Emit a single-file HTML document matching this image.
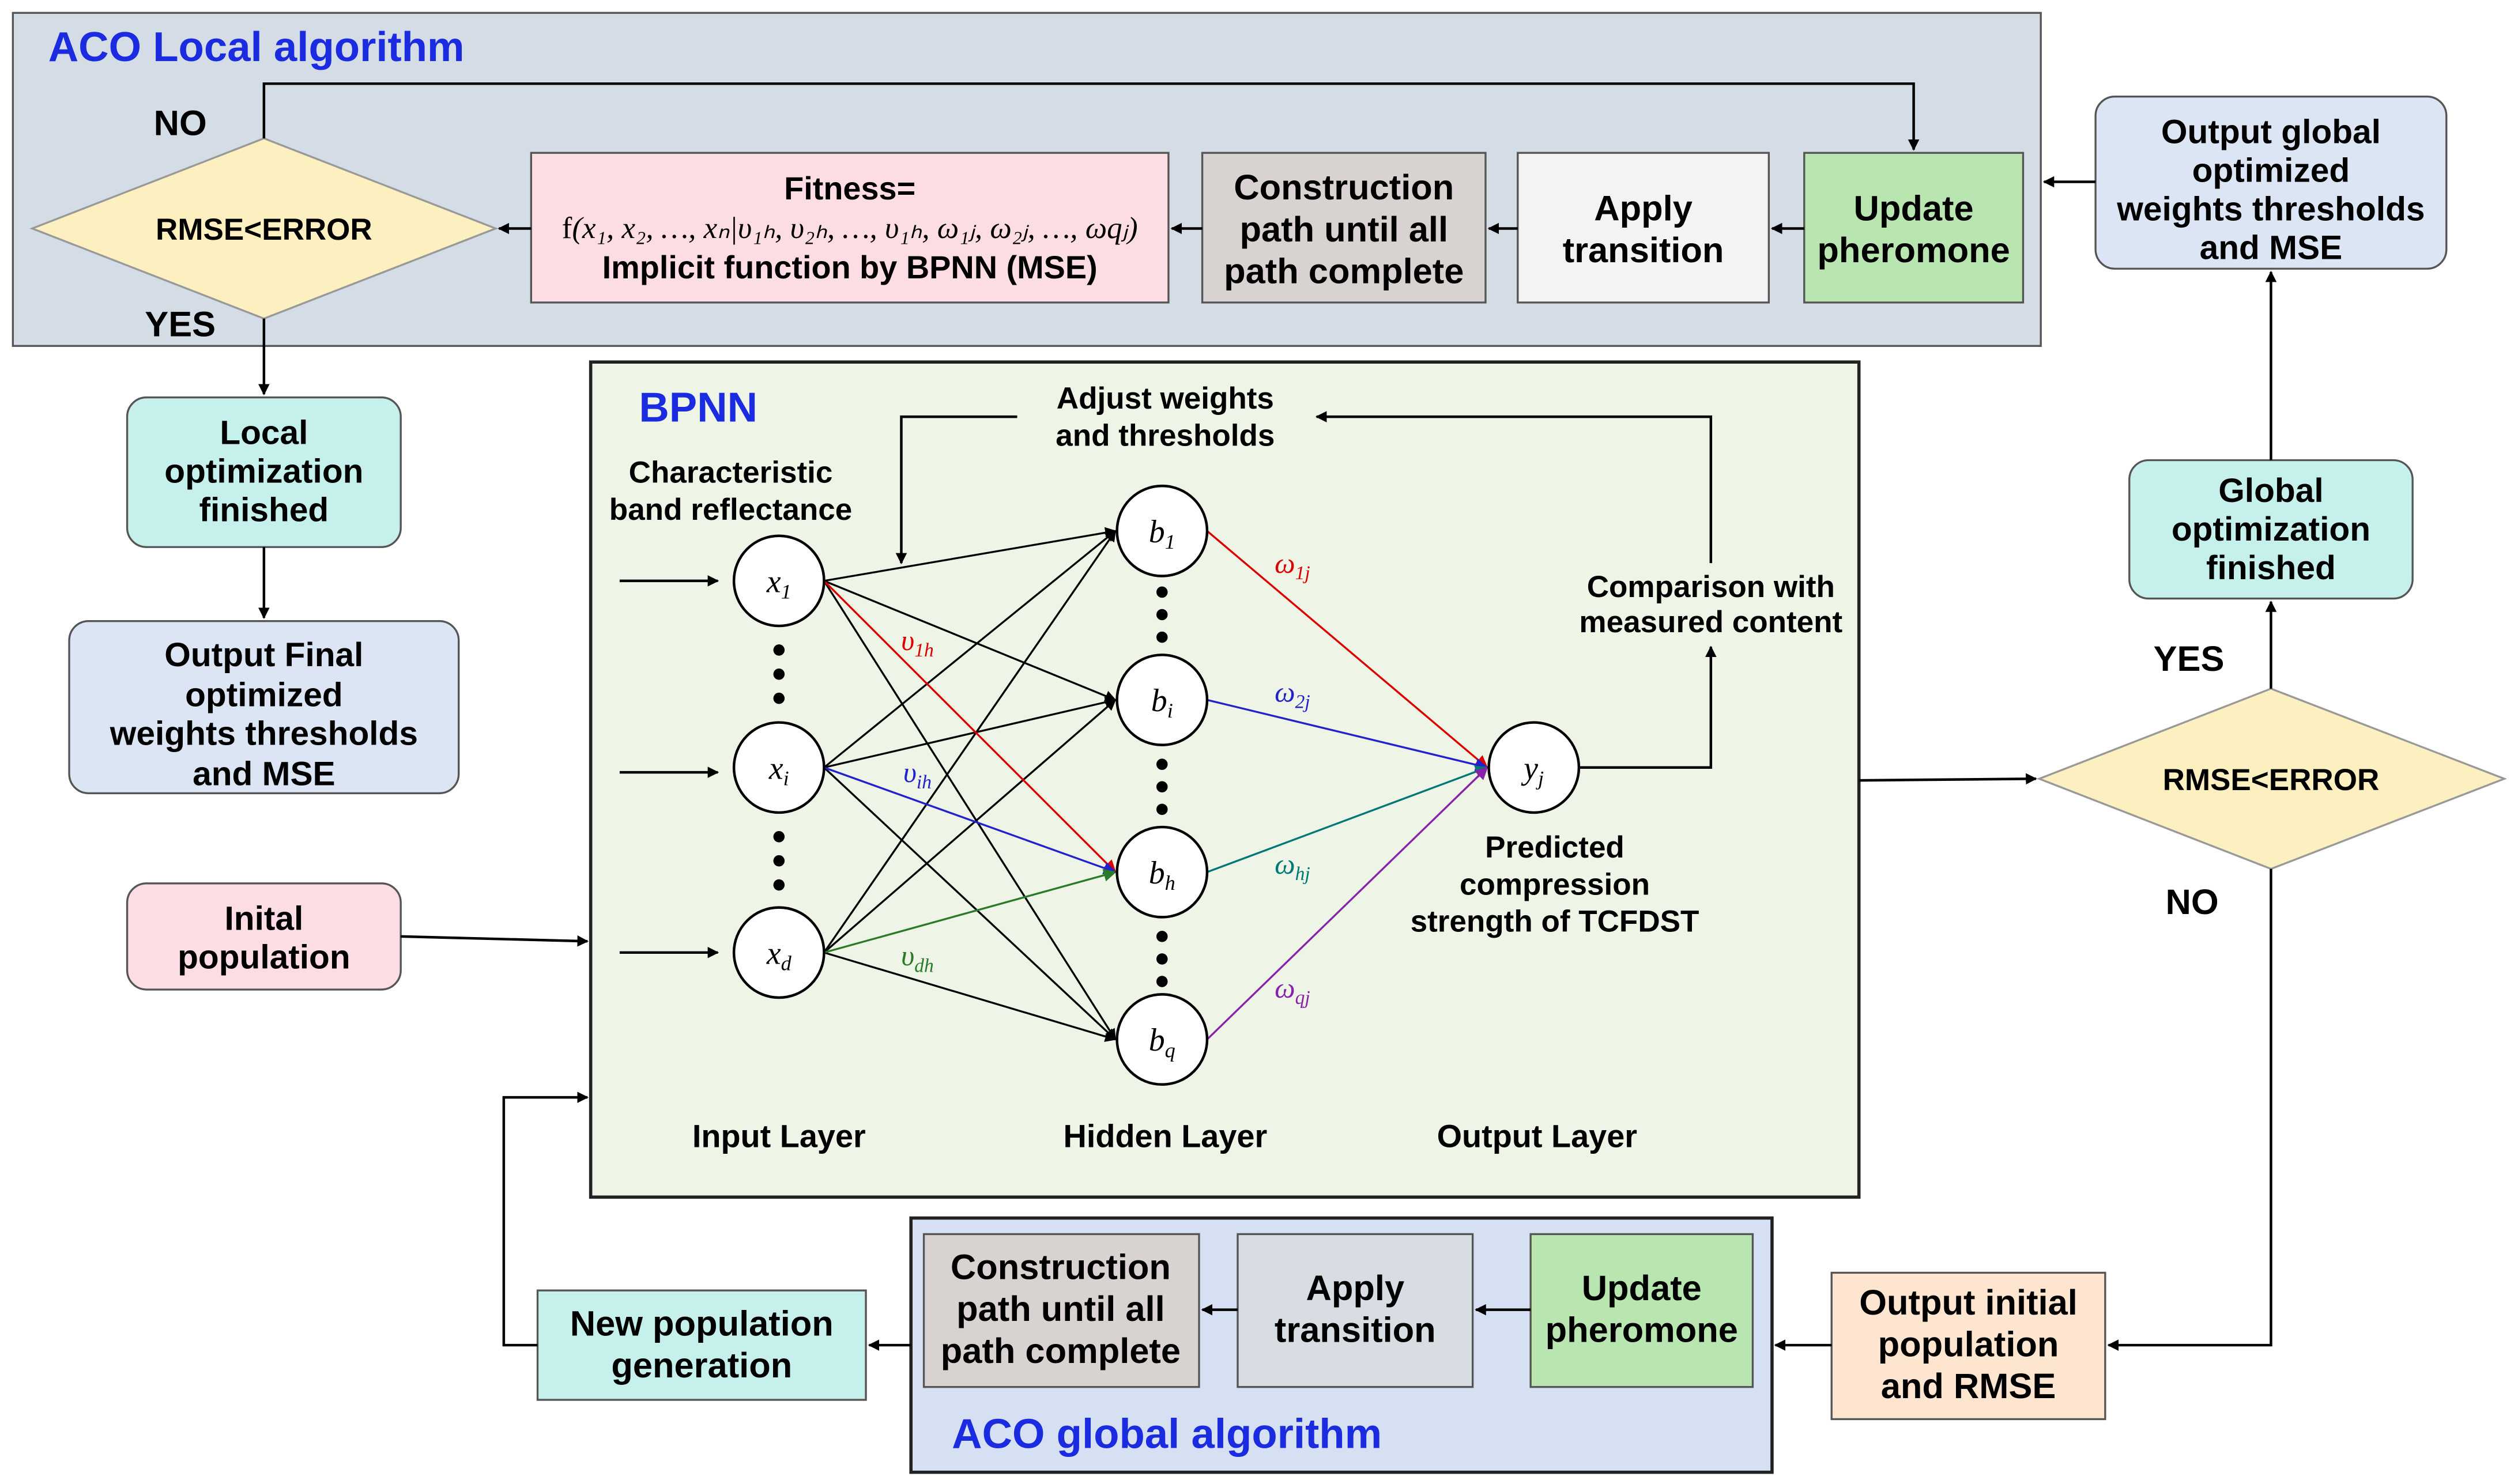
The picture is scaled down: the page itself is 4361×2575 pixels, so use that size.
<!DOCTYPE html>
<html><head><meta charset="utf-8"><style>html,body{margin:0;padding:0;background:#fff}svg{display:block}</style></head><body>
<svg width="4361" height="2575" viewBox="0 0 1562 922.3" preserveAspectRatio="none" xmlns="http://www.w3.org/2000/svg" font-family="Liberation Sans, sans-serif">
<defs>
<marker id="a" viewBox="0 0 10 10" refX="9" refY="5" markerWidth="7" markerHeight="7" orient="auto-start-reverse" markerUnits="userSpaceOnUse"><path d="M0,0L10,5L0,10z" fill="#000"/></marker>
<marker id="ar" viewBox="0 0 10 10" refX="9" refY="5" markerWidth="8" markerHeight="8" orient="auto" markerUnits="userSpaceOnUse"><path d="M0,0L10,5L0,10z" fill="#d00"/></marker>
<marker id="ab" viewBox="0 0 10 10" refX="9" refY="5" markerWidth="8" markerHeight="8" orient="auto" markerUnits="userSpaceOnUse"><path d="M0,0L10,5L0,10z" fill="#22c"/></marker>
<marker id="ag" viewBox="0 0 10 10" refX="9" refY="5" markerWidth="8" markerHeight="8" orient="auto" markerUnits="userSpaceOnUse"><path d="M0,0L10,5L0,10z" fill="#2a7a2a"/></marker>
<marker id="at" viewBox="0 0 10 10" refX="9" refY="5" markerWidth="8" markerHeight="8" orient="auto" markerUnits="userSpaceOnUse"><path d="M0,0L10,5L0,10z" fill="#077"/></marker>
<marker id="ap" viewBox="0 0 10 10" refX="9" refY="5" markerWidth="8" markerHeight="8" orient="auto" markerUnits="userSpaceOnUse"><path d="M0,0L10,5L0,10z" fill="#82a"/></marker>
</defs>
<g stroke="#555" stroke-width="1.2">
<rect x="8" y="8" width="1260" height="207" fill="#d4dce5"/>
<rect x="367" y="225" width="788" height="519" fill="#eef5e6" stroke="#222" stroke-width="2"/>
<rect x="566" y="757" width="535" height="158" fill="#d5e1f2" stroke="#222" stroke-width="2"/>
<polygon points="20,142 164,86 308,142 164,198" fill="#fdf0c0" stroke="#999"/>
<polygon points="1267,484 1411,428 1556,484 1411,540" fill="#fdf0c0" stroke="#999"/>
<rect x="330" y="95" width="396" height="93" fill="#fddde4"/>
<rect x="747" y="95" width="176" height="93" fill="#d8d3d1"/>
<rect x="943" y="95" width="156" height="93" fill="#f3f3f3"/>
<rect x="1121" y="95" width="136" height="93" fill="#b9e6b0"/>
<rect x="1302" y="60" width="218" height="107" rx="12" fill="#dbe5f4"/>
<rect x="1323" y="286" width="176" height="86" rx="12" fill="#c6f0ec"/>
<rect x="79" y="247" width="170" height="93" rx="12" fill="#c6f0ec"/>
<rect x="43" y="386" width="242" height="107" rx="12" fill="#dbe5f4"/>
<rect x="79" y="549" width="170" height="66" rx="12" fill="#fddde4"/>
<rect x="1138" y="791" width="170" height="91" fill="#fde5d0"/>
<rect x="574" y="767" width="171" height="95" fill="#d8d3d1"/>
<rect x="769" y="767" width="146" height="95" fill="#d8dde4"/>
<rect x="951" y="767" width="138" height="95" fill="#b9e6b0"/>
<rect x="334" y="802" width="204" height="68" fill="#c6f0ec"/>
</g>
<g stroke="#000" stroke-width="1.6" fill="none">
<polyline points="164,86 164,52 1189,52 1189,93" marker-end="url(#a)"/>
<line x1="330" y1="142" x2="310" y2="142" marker-end="url(#a)"/>
<line x1="747" y1="142" x2="728" y2="142" marker-end="url(#a)"/>
<line x1="943" y1="142" x2="925" y2="142" marker-end="url(#a)"/>
<line x1="1121" y1="142" x2="1101" y2="142" marker-end="url(#a)"/>
<line x1="1302" y1="113" x2="1270" y2="113" marker-end="url(#a)"/>
<line x1="164" y1="198" x2="164" y2="245" marker-end="url(#a)"/>
<line x1="164" y1="340" x2="164" y2="384" marker-end="url(#a)"/>
<line x1="249" y1="582" x2="365" y2="585" marker-end="url(#a)"/>
<line x1="1155" y1="485" x2="1265" y2="484" marker-end="url(#a)"/>
<line x1="1411" y1="428" x2="1411" y2="374" marker-end="url(#a)"/>
<line x1="1411" y1="286" x2="1411" y2="169" marker-end="url(#a)"/>
<polyline points="1411,540 1411,836 1310,836" marker-end="url(#a)"/>
<line x1="1138" y1="836" x2="1103" y2="836" marker-end="url(#a)"/>
<line x1="951" y1="814" x2="917" y2="814" marker-end="url(#a)"/>
<line x1="769" y1="814" x2="747" y2="814" marker-end="url(#a)"/>
<line x1="566" y1="836" x2="540" y2="836" marker-end="url(#a)"/>
<polyline points="334,836 313,836 313,682 365,682" marker-end="url(#a)"/>
<line x1="385" y1="361" x2="446" y2="361" marker-end="url(#a)"/>
<line x1="385" y1="480" x2="446" y2="480" marker-end="url(#a)"/>
<line x1="385" y1="592" x2="446" y2="592" marker-end="url(#a)"/>
<polyline points="632,259 560,259 560,350" marker-end="url(#a)"/>
<polyline points="1063,350 1063,259 818,259" marker-end="url(#a)"/>
<polyline points="981,477 1063,477 1063,402" marker-end="url(#a)"/>
</g>
<g stroke="#000" stroke-width="1.2" fill="none">
<line x1="512" y1="361" x2="693" y2="330" marker-end="url(#a)"/><line x1="512" y1="361" x2="693" y2="435" marker-end="url(#a)"/><line x1="512" y1="361" x2="693" y2="646" marker-end="url(#a)"/>
<line x1="512" y1="477" x2="693" y2="330" marker-end="url(#a)"/><line x1="512" y1="477" x2="693" y2="435" marker-end="url(#a)"/><line x1="512" y1="477" x2="693" y2="646" marker-end="url(#a)"/>
<line x1="512" y1="592" x2="693" y2="330" marker-end="url(#a)"/><line x1="512" y1="592" x2="693" y2="435" marker-end="url(#a)"/><line x1="512" y1="592" x2="693" y2="646" marker-end="url(#a)"/>
<line x1="512" y1="361" x2="693" y2="542" stroke="#d00" marker-end="url(#ar)"/>
<line x1="512" y1="477" x2="693" y2="542" stroke="#22c" marker-end="url(#ab)"/>
<line x1="512" y1="592" x2="693" y2="542" stroke="#2a7a2a" marker-end="url(#ag)"/>
<line x1="750" y1="330" x2="924" y2="477" stroke="#d00" marker-end="url(#ar)"/>
<line x1="750" y1="435" x2="924" y2="477" stroke="#22c" marker-end="url(#ab)"/>
<line x1="750" y1="542" x2="924" y2="477" stroke="#077" marker-end="url(#at)"/>
<line x1="750" y1="646" x2="924" y2="477" stroke="#82a" marker-end="url(#ap)"/>
</g>
<g fill="#fff" stroke="#000" stroke-width="1.6">
<circle cx="484" cy="361" r="28"/><circle cx="484" cy="477" r="28"/><circle cx="484" cy="592" r="28"/>
<circle cx="722" cy="330" r="28"/><circle cx="722" cy="435" r="28"/><circle cx="722" cy="542" r="28"/><circle cx="722" cy="646" r="28"/>
<circle cx="953" cy="477" r="28"/>
</g>
<g fill="#000">
<circle cx="484" cy="404" r="3.5"/><circle cx="484" cy="419" r="3.5"/><circle cx="484" cy="434" r="3.5"/>
<circle cx="484" cy="520" r="3.5"/><circle cx="484" cy="535" r="3.5"/><circle cx="484" cy="550" r="3.5"/>
<circle cx="722" cy="368" r="3.5"/><circle cx="722" cy="382" r="3.5"/><circle cx="722" cy="396" r="3.5"/>
<circle cx="722" cy="475" r="3.5"/><circle cx="722" cy="489" r="3.5"/><circle cx="722" cy="503" r="3.5"/>
<circle cx="722" cy="582" r="3.5"/><circle cx="722" cy="596" r="3.5"/><circle cx="722" cy="610" r="3.5"/>
</g>
<g font-family="Liberation Serif, serif" font-style="italic" font-size="20" text-anchor="middle">
<text x="484" y="368">x<tspan font-size="13" dy="4">1</tspan></text>
<text x="484" y="484">x<tspan font-size="13" dy="4">i</tspan></text>
<text x="484" y="599">x<tspan font-size="13" dy="4">d</tspan></text>
<text x="722" y="337">b<tspan font-size="13" dy="4">1</tspan></text>
<text x="722" y="442">b<tspan font-size="13" dy="4">i</tspan></text>
<text x="722" y="549">b<tspan font-size="13" dy="4">h</tspan></text>
<text x="722" y="653">b<tspan font-size="13" dy="4">q</tspan></text>
<text x="953" y="484">y<tspan font-size="13" dy="4">j</tspan></text>
<g font-size="18">
<text x="570" y="404" fill="#d00">υ<tspan font-size="12" dy="4">1h</tspan></text>
<text x="570" y="486" fill="#22c">υ<tspan font-size="12" dy="4">ih</tspan></text>
<text x="570" y="600" fill="#2a7a2a">υ<tspan font-size="12" dy="4">dh</tspan></text>
<text x="803" y="356" fill="#d00">ω<tspan font-size="12" dy="4">1j</tspan></text>
<text x="803" y="436" fill="#22c">ω<tspan font-size="12" dy="4">2j</tspan></text>
<text x="803" y="543" fill="#077">ω<tspan font-size="12" dy="4">hj</tspan></text>
<text x="803" y="620" fill="#82a">ω<tspan font-size="12" dy="4">qj</tspan></text>
</g>
<text x="528" y="148" font-style="normal" font-size="19">f<tspan font-style="italic">(x₁, x₂, …, xₙ|υ₁ₕ, υ₂ₕ, …, υ₁ₕ, ω₁ⱼ, ω₂ⱼ, …, ωqⱼ)</tspan></text>
</g>
<g font-weight="bold" font-size="22" text-anchor="middle" fill="#000">
<text x="30" y="38" text-anchor="start" fill="#1a2be0" font-size="26">ACO Local algorithm</text>
<text x="397" y="262" text-anchor="start" fill="#1a2be0" font-size="26">BPNN</text>
<text x="725" y="900" fill="#1a2be0" font-size="26">ACO global algorithm</text>
<text x="112" y="84">NO</text><text x="112" y="209">YES</text>
<text x="1360" y="417">YES</text><text x="1362" y="568">NO</text>
<text x="164" y="149" font-size="19">RMSE&lt;ERROR</text>
<text x="1411" y="491" font-size="19">RMSE&lt;ERROR</text>
<text x="528" y="124" font-size="20">Fitness=</text>
<text x="528" y="173" font-size="20">Implicit function by BPNN (MSE)</text>
<text x="835" y="124">Construction</text><text x="835" y="150">path until all</text><text x="835" y="176">path complete</text>
<text x="1021" y="137">Apply</text><text x="1021" y="163">transition</text>
<text x="1189" y="137">Update</text><text x="1189" y="163">pheromone</text>
<text x="1411" y="89" font-size="21">Output global</text><text x="1411" y="113" font-size="21">optimized</text><text x="1411" y="137" font-size="21">weights thresholds</text><text x="1411" y="161" font-size="21">and MSE</text>
<text x="1411" y="312" font-size="21">Global</text><text x="1411" y="336" font-size="21">optimization</text><text x="1411" y="360" font-size="21">finished</text>
<text x="164" y="276" font-size="21">Local</text><text x="164" y="300" font-size="21">optimization</text><text x="164" y="324" font-size="21">finished</text>
<text x="164" y="414" font-size="21">Output Final</text><text x="164" y="439" font-size="21">optimized</text><text x="164" y="463" font-size="21">weights thresholds</text><text x="164" y="488" font-size="21">and MSE</text>
<text x="164" y="578" font-size="21">Inital</text><text x="164" y="602" font-size="21">population</text>
<text x="1223" y="817">Output initial</text><text x="1223" y="843">population</text><text x="1223" y="869">and RMSE</text>
<text x="659" y="795">Construction</text><text x="659" y="821">path until all</text><text x="659" y="847">path complete</text>
<text x="842" y="808">Apply</text><text x="842" y="834">transition</text>
<text x="1020" y="808">Update</text><text x="1020" y="834">pheromone</text>
<text x="436" y="830">New population</text><text x="436" y="856">generation</text>
<g font-size="19">
<text x="724" y="254">Adjust weights</text><text x="724" y="277">and thresholds</text>
<text x="454" y="300">Characteristic</text><text x="454" y="323">band reflectance</text>
<text x="1063" y="371">Comparison with</text><text x="1063" y="393">measured content</text>
<text x="966" y="533">Predicted</text><text x="966" y="556">compression</text><text x="966" y="579">strength of TCFDST</text>
<text x="484" y="713" font-size="20">Input Layer</text><text x="724" y="713" font-size="20">Hidden Layer</text><text x="955" y="713" font-size="20">Output Layer</text>
</g>
</g>
</svg>
</body></html>
